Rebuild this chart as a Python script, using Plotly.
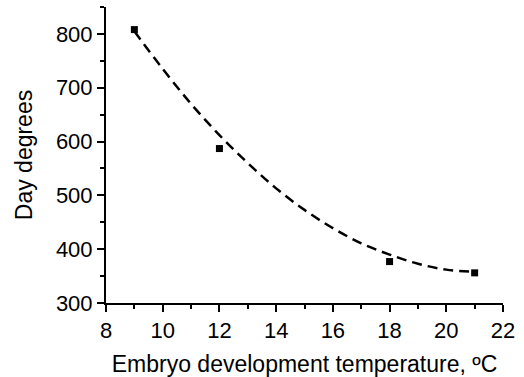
import plotly.graph_objects as go

temps = [9, 12, 18, 21]
day_degrees = [808, 587, 377, 356]

fit_x = [9, 10, 11, 12, 13, 14, 15, 16, 17, 18, 19, 20, 21]
fit_y = [805, 735, 670, 612, 560, 513, 473, 439, 411, 390, 373, 362, 358]

x_ticks = [8, 10, 12, 14, 16, 18, 20, 22]
y_ticks = [300, 400, 500, 600, 700, 800]

font = "Liberation Sans, Arial, sans-serif"

fig = go.Figure()
fig.add_trace(go.Scatter(x=fit_x, y=fit_y, mode="lines",
                         line=dict(color="black", width=2.5, dash="10px,6px", shape="spline"),
                         showlegend=False, hoverinfo="skip"))
fig.add_trace(go.Scatter(x=temps, y=day_degrees, mode="markers",
                         marker=dict(symbol="square", size=7, color="black"),
                         showlegend=False))

axis_common = dict(showline=True, linecolor="black", linewidth=2, ticks="outside",
                   ticklen=7, tickwidth=2, tickcolor="black", showgrid=False, zeroline=False,
                   automargin=False,
                   tickfont=dict(family=font, size=22, color="black"))

fig.update_xaxes(range=[8, 22], tickvals=x_ticks, **axis_common,
                 minor=dict(ticks="outside", dtick=1, tick0=8, ticklen=4, tickwidth=2, tickcolor="black"),
                 title=dict(text="Embryo development temperature, ºC",
                            font=dict(family=font, size=23, color="black"), standoff=14))
fig.update_yaxes(range=[300, 850], tickvals=y_ticks, **axis_common,
                 minor=dict(ticks="outside", dtick=50, tick0=300, ticklen=4, tickwidth=2, tickcolor="black"),
                 title=dict(text="Day degrees",
                            font=dict(family=font, size=23, color="black"), standoff=17))

fig.update_layout(width=524, height=377, margin=dict(l=106, r=21, t=7, b=74),
                  plot_bgcolor="white", paper_bgcolor="white")

fig.write_html("out.html")
